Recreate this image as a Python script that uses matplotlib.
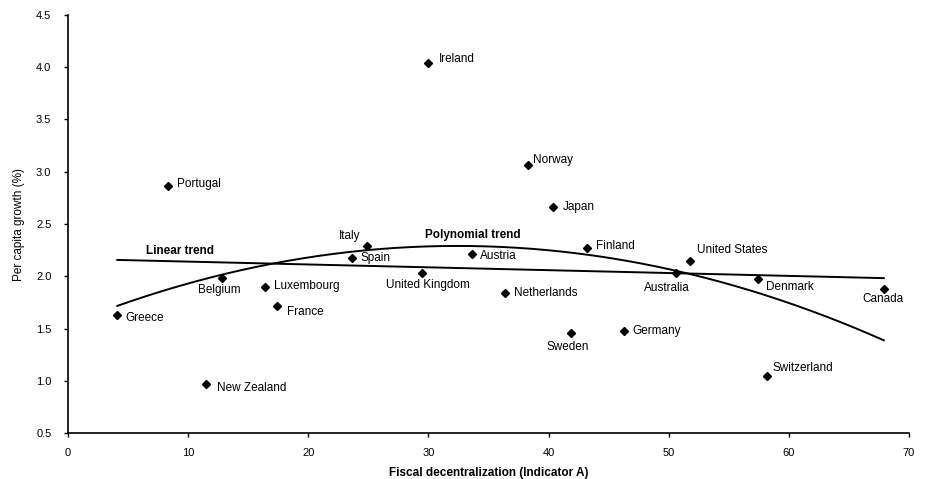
# Per-capita growth vs. fiscal decentralization, with linear and quadratic trends
import matplotlib
matplotlib.use('Agg')
import matplotlib.pyplot as plt
import numpy as np

plt.rcParams['font.family'] = ['Liberation Sans', 'DejaVu Sans']

# Data
countries = ['Greece', 'Portugal', 'New Zealand', 'Belgium', 'Luxembourg', 'France',
             'Italy', 'Spain', 'Ireland', 'United Kingdom', 'Austria', 'Netherlands',
             'Norway', 'Japan', 'Sweden', 'Finland', 'Germany', 'Australia',
             'United States', 'Denmark', 'Switzerland', 'Canada']
decentralization = [4.1, 8.3, 11.5, 12.8, 16.4, 17.4, 24.9, 23.6, 30.0, 29.5, 33.6, 36.4,
                    38.3, 40.4, 41.9, 43.2, 46.3, 50.6, 51.8, 57.4, 58.2, 67.9]
growth = [1.63, 2.86, 0.97, 1.98, 1.90, 1.72, 2.29, 2.17, 4.04, 2.03, 2.21, 1.84,
          3.06, 2.66, 1.46, 2.27, 1.48, 2.03, 2.15, 1.97, 1.05, 1.88]

# label placement: (dx, dy) in pixels, horizontal alignment
label_pos = {
    'Greece': (8, -3, 'left'), 'Portugal': (9, 2, 'left'), 'New Zealand': (11, -4, 'left'),
    'Belgium': (-3, -12, 'center'), 'Luxembourg': (9, 1, 'left'), 'France': (10, -6, 'left'),
    'Italy': (-7, 10, 'right'), 'Spain': (9, 0, 'left'), 'Ireland': (10, 4, 'left'),
    'United Kingdom': (5, -12, 'center'), 'Austria': (8, -2, 'left'),
    'Netherlands': (9, 0, 'left'), 'Norway': (5, 5, 'left'), 'Japan': (9, 0, 'left'),
    'Sweden': (-4, -14, 'center'), 'Finland': (9, 2, 'left'), 'Germany': (8, 0, 'left'),
    'Australia': (-9, -15, 'center'), 'United States': (7, 11, 'left'),
    'Denmark': (8, -8, 'left'), 'Switzerland': (5, 8, 'left'), 'Canada': (-1, -10, 'center'),
}

x = np.array(decentralization)
y = np.array(growth)

fig = plt.figure(figsize=(9.27, 4.79), dpi=100)
ax = fig.add_axes([0.0734, 0.096, 0.9072, 0.8727])

ax.plot(x, y, 'kD', markersize=3.8)

for name, xi, yi in zip(countries, x, y):
    dx, dy, ha = label_pos[name]
    ax.annotate(name, (xi, yi), xytext=(dx, dy), textcoords='offset pixels',
                ha=ha, va='center', fontsize=8.5)

# Trend lines
xs = np.linspace(x.min(), x.max(), 200)
lin = np.polyfit(x, y, 1)
quad = np.polyfit(x, y, 2)
ax.plot(xs, np.polyval(lin, xs), 'k-', lw=1.4)
ax.plot(xs, np.polyval(quad, xs), 'k-', lw=1.4)

ax.text(9.3, 2.24, 'Linear trend', fontsize=8.5, fontweight='bold', ha='center', va='center')
ax.text(33.7, 2.39, 'Polynomial trend', fontsize=8.5, fontweight='bold', ha='center', va='center')

ax.set_xlim(0, 70)
ax.set_ylim(0.5, 4.5)
ax.set_xticks(np.arange(0, 71, 10))
ax.set_yticks(np.arange(0.5, 4.51, 0.5))
ax.yaxis.set_major_formatter(plt.FormatStrFormatter('%.1f'))
ax.tick_params(direction='out', length=3, width=1, labelsize=8, colors='black')
ax.tick_params(axis='x', pad=8)
ax.tick_params(axis='y', pad=9)
for s in ['top', 'right']:
    ax.spines[s].set_visible(False)
for s in ['left', 'bottom']:
    ax.spines[s].set_linewidth(1.2)

ax.set_xlabel('Fiscal decentralization (Indicator A)', fontsize=8.5, fontweight='bold', labelpad=6)
ax.set_ylabel('Per capita growth (%)', fontsize=8.5, labelpad=8)

plt.savefig('out.png', dpi=100)
